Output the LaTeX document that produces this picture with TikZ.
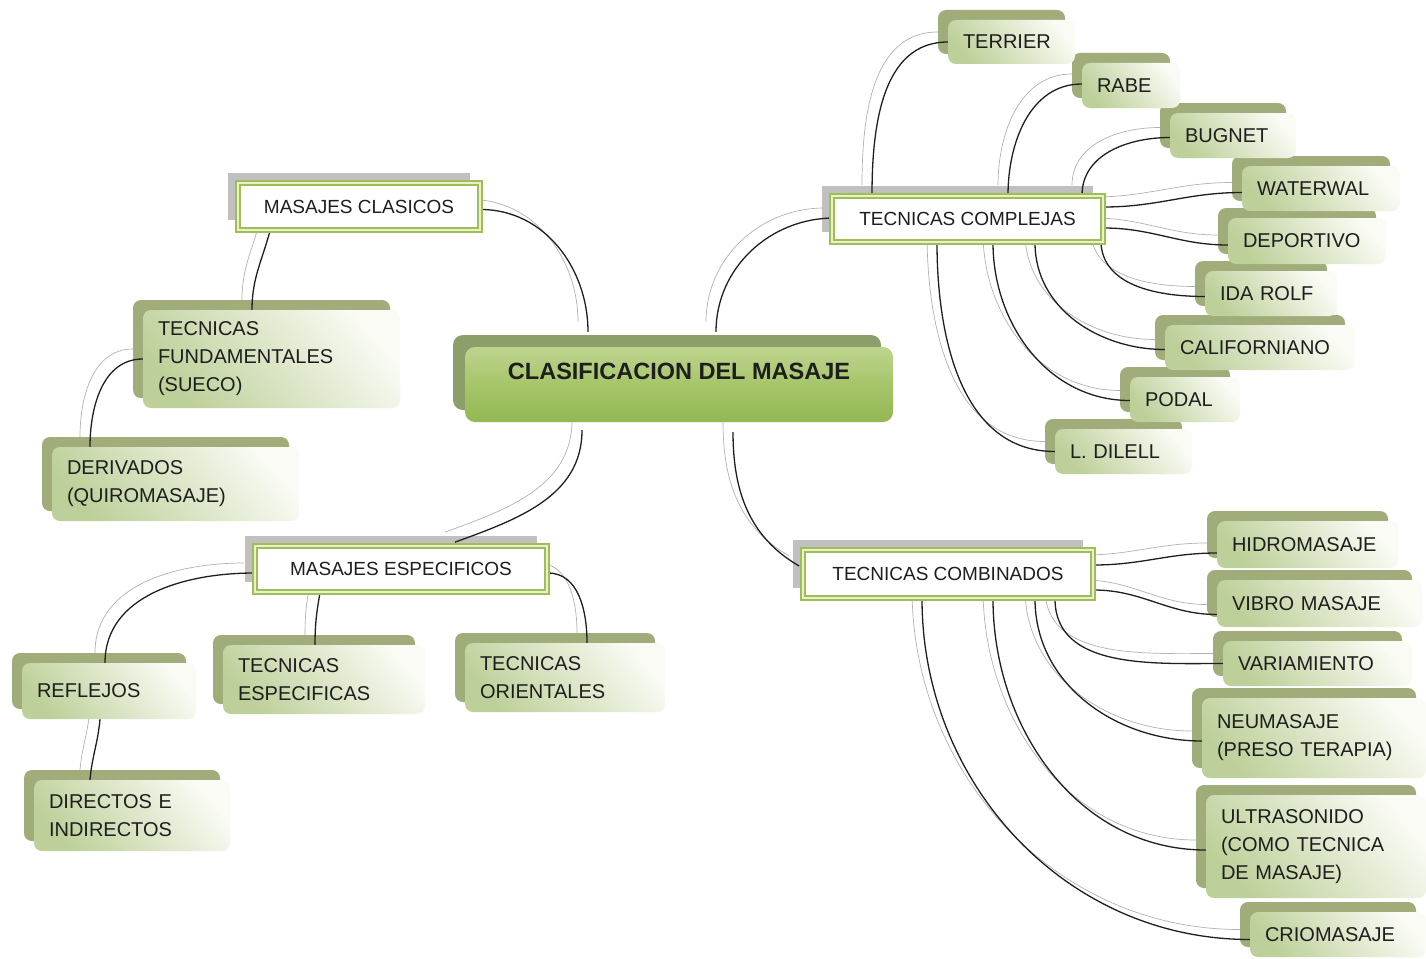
\documentclass[tikz,border=0pt]{standalone}
\usepackage{fontspec}
\setmainfont{Liberation Sans}
\usetikzlibrary{calc}
\definecolor{leafA}{RGB}{190,208,154}
\definecolor{leafB}{RGB}{249,251,244}
\definecolor{leafS}{RGB}{160,172,122}
\definecolor{cenT}{RGB}{190,212,142}
\definecolor{cenM}{RGB}{166,197,106}
\definecolor{cenB}{RGB}{148,183,82}
\definecolor{cenS}{RGB}{140,158,105}
\definecolor{headS}{RGB}{192,192,192}
\definecolor{headG}{RGB}{160,190,88}
\definecolor{headL}{RGB}{232,240,204}
\definecolor{txt}{RGB}{30,30,30}
\pgfdeclarelayer{back}
\pgfdeclarelayer{lines}
\pgfsetlayers{back,lines,main}
\tikzset{
  leafback/.style={fill=leafS, rounded corners=8pt, inner sep=0pt},
  leaffront/.style={rounded corners=8pt, top color=leafB, bottom color=leafA, shading angle=-50,
    align=left, inner xsep=15pt, inner ysep=2pt, font=\fontsize{20}{28}\selectfont, text=txt},
  headback/.style={fill=headS, inner sep=0pt},
  headfront/.style={fill=white, draw=headG, line width=1.7pt, double=headL, double distance=2pt,
    font=\fontsize{19}{23}\selectfont, text=txt, inner sep=0pt},
  cenback/.style={fill=cenS, rounded corners=10pt, inner sep=0pt},
  cenfront/.style={rounded corners=10pt, top color=cenT, bottom color=cenB, middle color=cenM,
    font=\fontsize{23.5}{28}\selectfont\bfseries, text=txt, inner sep=0pt},
  shline/.style={draw=black!30, line width=0.7pt},
  cline/.style={draw=black!88, line width=1.3pt}
}
\newcommand\leaf[6]{%
  \pgfmathsetmacro\tw{#4-30}%
  \begin{pgfonlayer}{back}
    \node[leafback, minimum width=#4pt, minimum height=#5pt] (#1s) at ($(#2,#3)+(-10,10)$) {};
  \end{pgfonlayer}
  \node[leaffront, minimum width=#4pt, minimum height=#5pt, text width=\tw pt] (#1) at (#2,#3) {#6};}
\newcommand\head[6]{%
  \begin{pgfonlayer}{back}
    \node[headback, minimum width=#4pt, minimum height=#5pt] (#1s) at ($(#2,#3)+(-10,10)$) {};
  \end{pgfonlayer}
  \node[headfront, minimum width=#4pt, minimum height=#5pt] (#1) at (#2,#3) {#6};}
\newcommand\conn[5]{%
  \begin{pgfonlayer}{lines}
    \draw[shline] ($(#1)+(#2)+(-10,10)$) to[#5] ($(#3)+(#4)+(-10,10)$);
    \draw[cline] ($(#1)+(#2)$) to[#5] ($(#3)+(#4)$);
  \end{pgfonlayer}}
\begin{document}
\begin{tikzpicture}[x=1pt,y=1pt]
\begin{pgfonlayer}{back}
  \fill[white] (0,0) rectangle (1426,-958);
\end{pgfonlayer}
\useasboundingbox (0,0) rectangle (1426,-958);
% centre
\begin{pgfonlayer}{back}
  \node[cenback, minimum width=428pt, minimum height=75pt] (cens) at (667,-372.5) {};
\end{pgfonlayer}
\node[cenfront, minimum width=428pt, minimum height=75pt, text height=17pt, text depth=28pt] (cen) at (679,-384.5) {CLASIFICACION DEL MASAJE};
% headings
\head{mc}{359}{-206.5}{242}{47}{MASAJES CLASICOS}
\head{me}{401}{-569}{292}{46}{MASAJES ESPECIFICOS}
\head{tc}{967.5}{-219}{271}{46}{TECNICAS COMPLEJAS}
\head{tco}{948}{-574}{290}{48}{TECNICAS COMBINADOS}
% leaves
\leaf{terrier}{1011.5}{-42}{127}{44}{TERRIER}
\leaf{rabe}{1131}{-85.5}{98}{45}{RABE}
\leaf{bugnet}{1233}{-135.5}{126}{45}{BUGNET}
\leaf{waterwal}{1321}{-188.5}{158}{45}{WATERWAL}
\leaf{deportivo}{1307}{-241}{158}{46}{DEPORTIVO}
\leaf{idarolf}{1271}{-293.5}{132}{45}{IDA~ROLF}
\leaf{californiano}{1260}{-347.5}{190}{45}{CALIFORNIANO}
\leaf{podal}{1185}{-399.5}{110}{45}{PODAL}
\leaf{dilell}{1123.5}{-451.5}{137}{45}{L.~DILELL}
\leaf{fund}{271.5}{-359}{257}{98}{TECNICAS\\FUNDAMENTALES\\(SUECO)}
\leaf{deriv}{175.5}{-484}{247}{74}{DERIVADOS\\(QUIROMASAJE)}
\leaf{reflejos}{109}{-691}{174}{56}{REFLEJOS}
\leaf{directos}{132}{-815.5}{196}{71}{DIRECTOS~E\\INDIRECTOS}
\leaf{tesp}{324}{-679.5}{202}{69}{TECNICAS\\ESPECIFICAS}
\leaf{torient}{565}{-677.5}{200}{69}{TECNICAS\\ORIENTALES}
\leaf{hidro}{1307.5}{-544.5}{181}{47}{HIDROMASAJE}
\leaf{vibro}{1319.5}{-603.5}{205}{47}{VIBRO~MASAJE}
\leaf{varia}{1317.5}{-663.5}{189}{45}{VARIAMIENTO}
\leaf{neuma}{1314}{-738}{224}{80}{NEUMASAJE\\(PRESO~TERAPIA)}
\leaf{ultra}{1316}{-846.5}{220}{103}{ULTRASONIDO\\(COMO~TECNICA\\DE~MASAJE)}
\leaf{crio}{1338}{-934.5}{176}{45}{CRIOMASAJE}
% connectors
\conn{mc.east}{0,-3}{cen.north}{-91,15}{out=0,in=90}
\conn{mc.south}{-89,0}{fund.north}{-19.5,0}{out=-105,in=90}
\conn{fund.west}{0,0}{deriv.north}{-85.5,0}{out=180,in=90}
\conn{cen.south}{-97,-8}{me.north}{54,3}{out=-90,in=20}
\conn{me.west}{0,-4}{reflejos.north}{-4,0}{out=180,in=90}
\conn{reflejos.south}{-9,0}{directos.north}{-42,0}{out=-95,in=85}
\conn{me.south}{-81,0}{tesp.north}{-9,0}{out=-100,in=90}
\conn{me.east}{0,-4}{torient.north}{22,0}{out=0,in=90}
\conn{cen.north}{37,15}{tc.west}{3,1}{out=90,in=180}
\conn{cen.south}{54,-10}{tco.west}{-3,8}{out=-90,in=150}
\conn{tc.north}{-95.5,0}{terrier.west}{0,0}{out=90,in=180}
\conn{tc.north}{40.5,0}{rabe.west}{0,1.5}{out=90,in=180}
\conn{tc.north}{114.5,0}{bugnet.west}{0,-2}{out=90,in=180}
\conn{tc.east}{0,12}{waterwal.west}{0,-4}{out=0,in=180}
\conn{tc.east}{0,-9}{deportivo.west}{0,-4}{out=0,in=180}
\conn{tc.east}{-3,-21}{idarolf.west}{0,-3}{out=-90,in=180}
\conn{tc.south}{67.5,0}{californiano.west}{0,-2}{out=-90,in=180}
\conn{tc.south}{25.5,0}{podal.west}{0,-1}{out=-90,in=180}
\conn{tc.south}{-30.5,0}{dilell.west}{0,0}{out=-90,in=180}
\conn{tco.east}{0,9}{hidro.west}{0,-8.5}{out=0,in=180}
\conn{tco.east}{0,-16}{vibro.west}{0,-11}{out=0,in=180}
\conn{tco.south}{107,0}{varia.west}{0,0}{out=-90,in=180}
\conn{tco.south}{87,0}{neuma.west}{0,-3}{out=-90,in=180}
\conn{tco.south}{45,0}{ultra.west}{0,-3.5}{out=-90,in=180}
\conn{tco.south}{-26,0}{crio.west}{0,-5}{out=-90,in=180}
\end{tikzpicture}
\end{document}
